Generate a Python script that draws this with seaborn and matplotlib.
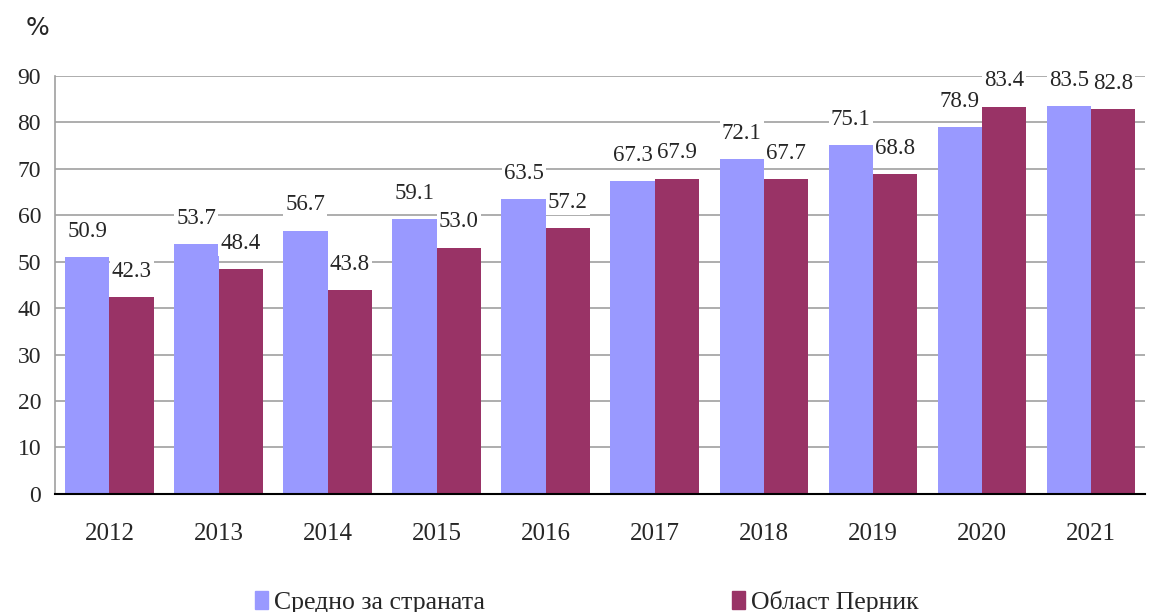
import pandas as pd
import numpy as np
import matplotlib.pyplot as plt
import seaborn as sns

# Data
years = ['2012', '2013', '2014', '2015', '2016', '2017', '2018', '2019', '2020', '2021']
country_avg = [50.9, 53.7, 56.7, 59.1, 63.5, 67.3, 72.1, 75.1, 78.9, 83.5]
pernik = [42.3, 48.4, 43.8, 53.0, 57.2, 67.9, 67.7, 68.8, 83.4, 82.8]
series_names = ['Средно за страната', 'Област Перник']
colors = ['#9999FF', '#993366']

df = pd.DataFrame({
    'year': years * 2,
    'value': country_avg + pernik,
    'series': [series_names[0]] * len(years) + [series_names[1]] * len(years),
})

sns.set_style('white')
plt.rcParams['font.family'] = ['Liberation Serif', 'DejaVu Serif']

fig = plt.figure(figsize=(11.55, 6.12), dpi=100)
ax = fig.add_axes([0.0476, 0.193, 0.944, 0.683])

sns.barplot(data=df, x='year', y='value', hue='series', palette=colors,
            width=0.81, gap=0, saturation=1, linewidth=0, ax=ax, legend=False)

# value labels with white boxes that cover the gridlines
for cont in ax.containers:
    ax.bar_label(cont, fmt='%.1f', padding=11, fontsize=16.5, zorder=5,
                 bbox=dict(facecolor='white', edgecolor='none', pad=1.5))

ax.set_ylim(0, 90)
ax.set_xlim(-0.5, len(years) - 0.5)
ax.set_yticks(range(0, 91, 10))
ax.yaxis.grid(True, color='#A0A0A0', linewidth=1.2)
ax.set_axisbelow(True)
ax.set_xlabel('')
ax.set_ylabel('')

for s in ['top', 'right']:
    ax.spines[s].set_visible(False)
ax.spines['left'].set_color('#A0A0A0')
ax.spines['left'].set_linewidth(1.2)
ax.spines['bottom'].set_color('black')
ax.spines['bottom'].set_linewidth(1.5)

ax.tick_params(axis='y', length=7, color='#A0A0A0', width=1.2, labelsize=17, pad=3)
ax.tick_params(axis='x', which='major', length=0, labelsize=18, pad=21)
ax.set_xticks(np.arange(-0.5, len(years), 1), minor=True)
ax.tick_params(axis='x', which='minor', length=6, width=1.5, color='black', direction='out')

fig.text(0.022, 0.955, '%', fontsize=18, family='DejaVu Sans', va='center')

handles = [plt.Rectangle((0, 0), 1, 1, color=c) for c in colors]
fig.legend(handles, series_names, loc='lower center', bbox_to_anchor=(0.508, -0.041),
           ncol=2, frameon=False, fontsize=18.5, handlelength=0.5, handleheight=0.65,
           handletextpad=0.25, columnspacing=9.6)

fig.savefig('out.png', dpi=100)
